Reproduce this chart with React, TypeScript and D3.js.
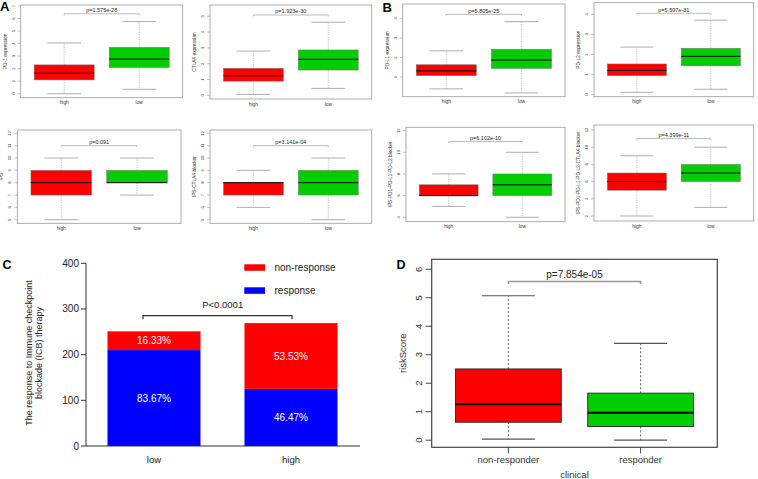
import React from "react";
import * as d3 from "d3";

// ---------- Data ----------
const groupsAB = ["high", "low"];
// box stats: [min, q1, median, q3, max]
const pd1High = [0.0, 1.1, 1.63, 2.3, 4.05];
const pd1Low = [0.35, 2.09, 2.76, 3.7, 5.76];
const ctla4High = [0.06, 0.9, 1.24, 1.71, 2.8];
const ctla4Low = [0.44, 1.6, 2.28, 2.87, 4.62];
const pdl1High = [0.4, 1.07, 1.32, 1.63, 2.34];
const pdl1Low = [0.19, 1.44, 1.87, 2.42, 3.83];
const pdl2High = [0.12, 0.95, 1.21, 1.53, 2.37];
const pdl2Low = [0.27, 1.44, 1.91, 2.31, 3.71];
const ipsHigh = [5, 7, 8, 9, 10];
const ipsLow = [7, 8, 8, 9, 10];
const ipsCtla4High = [6, 7, 8, 8, 9];
const ipsCtla4Low = [5, 7, 8, 9, 10];
const ipsPdHigh = [5, 6, 6, 7, 8];
const ipsPdLow = [4, 6, 7, 8, 10];
const ipsPdCtla4High = [2, 5, 6, 7, 9];
const ipsPdCtla4Low = [3, 6, 7, 8, 10];

const titlesAB = [
  "PD-1 expression",
  "CTLA4 expression",
  "PD-L1 expression",
  "PD-L2 expression",
  "IPS",
  "IPS-CTLA4 blocker",
  "IPS-PD1-PD-L1-PD-L2 blocker",
  "IPS-PD1-PD-L1-PD-L2-CTLA4 blocker",
];
const pTextsAB = [
  "p=1.575e-28",
  "p=1.923e-30",
  "p=5.805e-25",
  "p=5.597e-31",
  "p=0.091",
  "p=3.141e-04",
  "p=6.102e-10",
  "p=4.399e-11",
];
const bracketLevelsAB = [6.38, 5.08, 4.2, 4.05, 11, 11, 11, 11];
const ticksAB = [
  [0, 1, 2, 3, 4, 5, 6, 7],
  [0, 1, 2, 3, 4, 5],
  [1, 2, 3, 4],
  [0, 1, 2, 3, 4],
  [5, 6, 7, 8, 9, 10, 11, 12],
  [5, 6, 7, 8, 9, 10, 11, 12],
  [4, 6, 8, 10, 12],
  [2, 4, 6, 8, 10, 12],
];
const statsAB = [
  [pd1High, pd1Low],
  [ctla4High, ctla4Low],
  [pdl1High, pdl1Low],
  [pdl2High, pdl2Low],
  [ipsHigh, ipsLow],
  [ipsCtla4High, ipsCtla4Low],
  [ipsPdHigh, ipsPdLow],
  [ipsPdCtla4High, ipsPdCtla4Low],
];

// Panel C
const groupsC = ["low", "high"];
const responseCounts = [210, 125];
const nonResponseCounts = [41, 144];
const ticksC = [0, 100, 200, 300, 400];
const legendC = ["non-response", "response"];
const pTextC = "P<0.0001";

// Panel D
const groupsD = ["non-responder", "responder"];
const nonResponderStats = [0.035, 0.63, 1.26, 2.5, 5.07];
const responderStats = [0.0, 0.48, 0.96, 1.65, 3.4];
const ticksD = [0, 1, 2, 3, 4, 5, 6];
const pTextD = "p=7.854e-05";

// ---------- Layout ----------
const FONT = "Liberation Sans, Arial, Helvetica, sans-serif";
const RED = "#FF0000";
const GREEN = "#00CD00";
const BLUE = "#0000FF";

const smallLayouts = [
  { l: 20.7, r: 182.7, t: 5, b: 97.7, dom: [-0.32, 7.08] },
  { l: 210, r: 371.7, t: 5, b: 99, dom: [-0.23, 5.71] },
  { l: 402.7, r: 565, t: 4, b: 96.7, dom: [0.0, 4.73] },
  { l: 594, r: 753.7, t: 2.7, b: 96.7, dom: [-0.1, 4.58] },
  { l: 17.3, r: 181, t: 130, b: 223.3, dom: [4.71, 12.27] },
  { l: 210, r: 371.7, t: 130, b: 223.3, dom: [4.71, 12.27] },
  { l: 406, r: 565, t: 127.3, b: 221.7, dom: [3.59, 12.31] },
  { l: 594, r: 753.7, t: 125, b: 221, dom: [1.42, 12.58] },
];

type BoxProps = {
  l: number;
  r: number;
  t: number;
  b: number;
  dom: number[];
  stats: number[][];
  groups: string[];
  colors: string[];
  ticks: number[];
  title: string;
  pText: string;
  level: number;
  big?: boolean;
  xTitle?: string;
};

function RBox(p: BoxProps) {
  const x = d3.scaleLinear().domain([0.42, 2.58]).range([p.l, p.r]);
  const y = d3.scaleLinear().domain(p.dom).range([p.b, p.t]);
  const unit = x(1) - x(0);
  const bw = 0.8 * unit;
  const capW = bw * (p.big ? 0.5 : 0.56);
  const big = !!p.big;
  const frameCol = big ? "#444" : "#9a9a9a";
  const boxCol = big ? "#333" : "#777";
  const whiskCol = big ? "#555" : "#999";
  const tickFs = big ? 9.5 : 4.2;
  const titleFs = big ? 9.5 : 4.8;
  const pFs = big ? 10 : 5.5;
  const xFs = big ? 9.5 : 4.8;
  const tickLen = big ? 6 : 3;
  return (
    <g fontFamily={FONT}>
      {p.stats.map((s, i) => {
        const cx = x(i + 1);
        return (
          <g key={i}>
            <line x1={cx} x2={cx} y1={y(s[3])} y2={y(s[4])} stroke={whiskCol} strokeWidth={big ? 0.9 : 0.6} strokeDasharray={big ? "2,2" : "1.2,1.2"} />
            <line x1={cx} x2={cx} y1={y(s[1])} y2={y(s[0])} stroke={whiskCol} strokeWidth={big ? 0.9 : 0.6} strokeDasharray={big ? "2,2" : "1.2,1.2"} />
            <line x1={cx - capW / 2} x2={cx + capW / 2} y1={y(s[4])} y2={y(s[4])} stroke={whiskCol} strokeWidth={big ? 1.2 : 0.8} />
            <line x1={cx - capW / 2} x2={cx + capW / 2} y1={y(s[0])} y2={y(s[0])} stroke={whiskCol} strokeWidth={big ? 1.2 : 0.8} />
            <rect x={cx - bw / 2} y={y(s[3])} width={bw} height={y(s[1]) - y(s[3])} fill={p.colors[i]} stroke={boxCol} strokeWidth={big ? 1 : 0.5} />
            <line x1={cx - bw / 2} x2={cx + bw / 2} y1={y(s[2])} y2={y(s[2])} stroke="#000" strokeWidth={big ? 2 : 1} />
          </g>
        );
      })}
      <rect x={p.l} y={p.t} width={p.r - p.l} height={p.b - p.t} fill="none" stroke={frameCol} strokeWidth={big ? 1.2 : 0.8} />
      {p.ticks.map((tv) => (
        <g key={tv}>
          <line x1={p.l} x2={p.l - tickLen} y1={y(tv)} y2={y(tv)} stroke={frameCol} strokeWidth={big ? 1 : 0.6} />
          <text
            transform={`translate(${p.l - (big ? 10 : 6)},${y(tv)}) rotate(-90)`}
            textAnchor="middle"
            fontSize={tickFs}
            fill="#333"
          >
            {tv}
          </text>
        </g>
      ))}
      {p.groups.map((g, i) => (
        <g key={g}>
          {big && <line x1={x(i + 1)} x2={x(i + 1)} y1={p.b} y2={p.b + 6} stroke={frameCol} strokeWidth={1} />}
          <text x={x(i + 1)} y={p.b + (big ? 16 : 6.5)} textAnchor="middle" fontSize={xFs} fill="#333">
            {g}
          </text>
        </g>
      ))}
      <text
        transform={`translate(${p.l - (big ? 26 : 14)},${(p.t + p.b) / 2}) rotate(-90)`}
        textAnchor="middle"
        fontSize={titleFs}
        fill="#333"
      >
        {p.title}
      </text>
      {p.xTitle && (
        <text x={(p.l + p.r) / 2} y={p.b + 31} textAnchor="middle" fontSize={9.5} fill="#333">
          {p.xTitle}
        </text>
      )}
      <path
        d={`M${x(1)},${y(p.level) + (big ? 2.5 : 1.5)}V${y(p.level)}H${x(2)}V${y(p.level) + (big ? 2.5 : 1.5)}`}
        fill="none"
        stroke={big ? "#999" : "#bbb"}
        strokeWidth={big ? 1.6 : 1}
      />
      <text x={(x(1) + x(2)) / 2} y={y(p.level) - (big ? 4 : 1.6)} textAnchor="middle" fontSize={pFs} fill="#222">
        {p.pText}
      </text>
    </g>
  );
}

function PanelC() {
  const l = 86, r = 360, t = 263.3, b = 446;
  const y = d3.scaleLinear().domain([0, 400]).range([b, t]);
  const x = d3.scalePoint<string>().domain(groupsC).range([154, 291]);
  const bw = 93;
  const totals = groupsC.map((_, i) => responseCounts[i] + nonResponseCounts[i]);
  const bx1 = x(groupsC[0])!;
  const bx2 = x(groupsC[1])!;
  const by = 315.7;
  return (
    <g fontFamily={FONT}>
      {groupsC.map((g, i) => {
        const cx = x(g)!;
        const tot = totals[i];
        const resp = responseCounts[i];
        return (
          <g key={g}>
            <rect x={cx - bw / 2} y={y(resp)} width={bw} height={y(0) - y(resp)} fill={BLUE} />
            <rect x={cx - bw / 2} y={y(tot)} width={bw} height={y(resp) - y(tot)} fill={RED} />
            <text x={cx} y={(y(resp) + y(0)) / 2 + 3.5} textAnchor="middle" fontSize={10} fill="#fff">
              {((resp / tot) * 100).toFixed(2)}%
            </text>
            <text x={cx} y={(y(tot) + y(resp)) / 2 + 3.5} textAnchor="middle" fontSize={10} fill="#fff">
              {((nonResponseCounts[i] / tot) * 100).toFixed(2)}%
            </text>
            <text x={cx} y={463} textAnchor="middle" fontSize={9.5} fill="#222">
              {g}
            </text>
          </g>
        );
      })}
      <line x1={l} x2={l} y1={t} y2={b} stroke="#333" strokeWidth={1} />
      <line x1={l} x2={r} y1={b} y2={b} stroke="#333" strokeWidth={1} />
      {ticksC.map((tv) => (
        <g key={tv}>
          <line x1={l - 5} x2={l} y1={y(tv)} y2={y(tv)} stroke="#333" strokeWidth={1} />
          <text x={l - 7} y={y(tv) + 3.5} textAnchor="end" fontSize={10} fill="#222">
            {tv}
          </text>
        </g>
      ))}
      <text transform={`translate(31.5,353) rotate(-90)`} textAnchor="middle" fontSize={9} fill="#222">
        The response to Immune checkpoint
      </text>
      <text transform={`translate(41.5,353) rotate(-90)`} textAnchor="middle" fontSize={9} fill="#222">
        blockade (ICB)  therapy
      </text>
      <path d={`M${bx1 - 11},${by + 3.6}V${by}H${bx2 + 1}V${by + 3.6}`} fill="none" stroke="#333" strokeWidth={1.2} />
      <text x={222.7} y={307.5} textAnchor="middle" fontSize={9.5} fill="#222">
        {pTextC}
      </text>
      {legendC.map((lab, i) => (
        <g key={lab}>
          <rect x={244.3} y={264.3 + i * 23} width={20.7} height={6.5} fill={i === 0 ? RED : BLUE} />
          <text x={274.5} y={271.2 + i * 23} fontSize={10} fill="#222">
            {lab}
          </text>
        </g>
      ))}
      <text x={2.5} y={268.5} fontSize={12.5} fontWeight="bold" fill="#000">C</text>
    </g>
  );
}

export default function App() {
  return (
    <svg width={758} height={479} style={{ position: "absolute", left: 0, top: 0, background: "#fff" }}>
      <rect width={758} height={479} fill="#fff" />
      {smallLayouts.map((lay, i) => (
        <RBox
          key={i}
          {...lay}
          stats={statsAB[i]}
          groups={groupsAB}
          colors={[RED, GREEN]}
          ticks={ticksAB[i]}
          title={titlesAB[i]}
          pText={pTextsAB[i]}
          level={bracketLevelsAB[i]}
        />
      ))}
      <text x={0} y={10.5} fontFamily={FONT} fontSize={13} fontWeight="bold">A</text>
      <text x={382.5} y={11.5} fontFamily={FONT} fontSize={13} fontWeight="bold">B</text>
      <PanelC />
      <RBox
        l={431.7}
        r={717.3}
        t={259.3}
        b={447.3}
        dom={[-0.25, 6.35]}
        stats={[nonResponderStats, responderStats]}
        groups={groupsD}
        colors={[RED, GREEN]}
        ticks={ticksD}
        title="riskScore"
        pText={pTextD}
        level={5.57}
        big
        xTitle="clinical"
      />
      <text x={396.5} y={269} fontFamily={FONT} fontSize={12.5} fontWeight="bold">D</text>
    </svg>
  );
}
